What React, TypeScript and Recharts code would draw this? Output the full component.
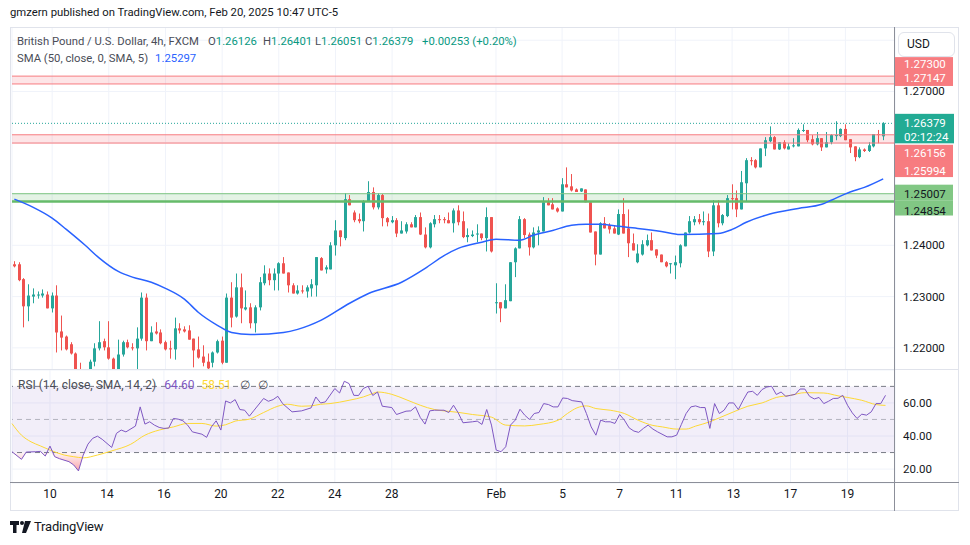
import React from "react";
import {
  ComposedChart,
  Bar,
  Line,
  Area,
  XAxis,
  YAxis,
  CartesianGrid,
  ReferenceLine,
  ReferenceArea,
} from "recharts";

const FONT = "Roboto, 'Noto Sans', sans-serif";
const TEAL = "#26A69A";
const RED = "#EF5350";
const GRID = "#F0F3FA";

// ---- 4h candles, GBP/USD (FXCM), Jan 9 – Feb 20 2025 ----
const opens = [
  1.2363, 1.2363, 1.2334, 1.2281, 1.23, 1.2302, 1.2302, 1.2304, 1.2277, 1.2302,
  1.2232, 1.2222, 1.2207, 1.2189, 1.2152, 1.2127, 1.214, 1.2173, 1.2199, 1.2213,
  1.2201, 1.2179, 1.2152, 1.2187, 1.2211, 1.2201, 1.2199, 1.2218, 1.2298, 1.2213,
  1.2232, 1.223, 1.2211, 1.2199, 1.2197, 1.2238, 1.2236, 1.2234, 1.2218, 1.2197,
  1.2183, 1.2173, 1.2171, 1.2191, 1.2214, 1.2171, 1.2298, 1.2261, 1.2318, 1.2275,
  1.2279, 1.2248, 1.2279, 1.2326, 1.2345, 1.2332, 1.2345, 1.2365, 1.2347, 1.2322,
  1.2306, 1.2312, 1.231, 1.2316, 1.2322, 1.2375, 1.2353, 1.2353, 1.24, 1.2429,
  1.2414, 1.249, 1.2464, 1.2451, 1.2447, 1.2486, 1.2504, 1.2474, 1.2498, 1.2453,
  1.2445, 1.2449, 1.2423, 1.2427, 1.2441, 1.2435, 1.2455, 1.2421, 1.2396, 1.2441,
  1.2451, 1.2451, 1.2449, 1.2443, 1.2468, 1.2447, 1.2416, 1.2418, 1.2421, 1.2423,
  1.2414, 1.2455, 1.2287, 1.2289, 1.2277, 1.2291, 1.2367, 1.2394, 1.2451, 1.2421,
  1.2396, 1.2425, 1.2427, 1.2484, 1.248, 1.2472, 1.2466, 1.2519, 1.2515, 1.2509,
  1.2505, 1.2509, 1.2484, 1.2427, 1.2382, 1.2443, 1.2439, 1.2433, 1.2421, 1.2461,
  1.2433, 1.2404, 1.2367, 1.2382, 1.24, 1.241, 1.2392, 1.2382, 1.2367, 1.2363,
  1.2361, 1.2365, 1.2398, 1.2425, 1.2445, 1.2451, 1.2445, 1.2447, 1.2388, 1.2478,
  1.2443, 1.2457, 1.2492, 1.2492, 1.247, 1.2521, 1.2566, 1.2566, 1.2552, 1.2589,
  1.2603, 1.2611, 1.2587, 1.2601, 1.2587, 1.2593, 1.2593, 1.2623, 1.2625, 1.2607,
  1.2597, 1.2609, 1.2591, 1.2601, 1.2613, 1.2613, 1.2627, 1.2607, 1.2593, 1.2572,
  1.2587, 1.2584, 1.2593, 1.2617, 1.26126,
];
const highs = [
  1.2369, 1.2367, 1.2336, 1.2324, 1.2316, 1.231, 1.2314, 1.231, 1.2308, 1.2322,
  1.2263, 1.2224, 1.2211, 1.2191, 1.2171, 1.2152, 1.2177, 1.2209, 1.2252, 1.2218,
  1.2252, 1.2181, 1.2216, 1.2214, 1.2216, 1.2209, 1.224, 1.2308, 1.2306, 1.2242,
  1.225, 1.2236, 1.2214, 1.2214, 1.2259, 1.2248, 1.2242, 1.2244, 1.2218, 1.2222,
  1.2205, 1.2189, 1.2193, 1.2216, 1.2222, 1.2306, 1.2328, 1.2345, 1.2345, 1.2312,
  1.2287, 1.2283, 1.2338, 1.2361, 1.2355, 1.2355, 1.2367, 1.2377, 1.2347, 1.2326,
  1.2322, 1.2322, 1.2322, 1.2334, 1.2377, 1.2377, 1.2361, 1.2406, 1.2449, 1.2429,
  1.2502, 1.2498, 1.2468, 1.2462, 1.2488, 1.2525, 1.2513, 1.2502, 1.25, 1.2455,
  1.2457, 1.2453, 1.2447, 1.2445, 1.2445, 1.2459, 1.2464, 1.2435, 1.2445, 1.2459,
  1.2459, 1.2455, 1.2464, 1.2472, 1.2478, 1.2466, 1.2433, 1.2429, 1.2441, 1.2423,
  1.2474, 1.2455, 1.2326, 1.2289, 1.2324, 1.2367, 1.2396, 1.2457, 1.2453, 1.2425,
  1.2435, 1.2437, 1.2494, 1.2492, 1.2492, 1.2474, 1.2531, 1.2552, 1.2539, 1.2511,
  1.2511, 1.2509, 1.2484, 1.2427, 1.2445, 1.2455, 1.2443, 1.2439, 1.247, 1.2492,
  1.247, 1.2423, 1.2402, 1.241, 1.2421, 1.2425, 1.2392, 1.2382, 1.2369, 1.2365,
  1.238, 1.2402, 1.2425, 1.2457, 1.2457, 1.2461, 1.2466, 1.2462, 1.2488, 1.2488,
  1.2461, 1.2498, 1.2519, 1.2507, 1.2545, 1.257, 1.2572, 1.2568, 1.2589, 1.2611,
  1.2632, 1.2613, 1.2601, 1.2605, 1.2599, 1.2609, 1.2628, 1.2636, 1.2625, 1.2615,
  1.2621, 1.2609, 1.2621, 1.2617, 1.2642, 1.2628, 1.2636, 1.2607, 1.2593, 1.2591,
  1.2589, 1.2601, 1.2617, 1.2625, 1.26401,
];
const lows = [
  1.2357, 1.233, 1.224, 1.2252, 1.2287, 1.2296, 1.2298, 1.2277, 1.2269, 1.2191,
  1.2195, 1.2195, 1.2187, 1.214, 1.2117, 1.2101, 1.2129, 1.2164, 1.2195, 1.2195,
  1.2177, 1.214, 1.2144, 1.2183, 1.2199, 1.2195, 1.2152, 1.2214, 1.2195, 1.2213,
  1.2226, 1.2207, 1.2195, 1.2179, 1.2177, 1.2228, 1.223, 1.2216, 1.2162, 1.2179,
  1.2164, 1.2146, 1.2162, 1.2189, 1.2168, 1.2171, 1.224, 1.2259, 1.2248, 1.2273,
  1.2238, 1.223, 1.2273, 1.2322, 1.2322, 1.2312, 1.2312, 1.2345, 1.2308, 1.2306,
  1.2304, 1.2306, 1.2298, 1.23, 1.23, 1.2351, 1.2345, 1.2353, 1.238, 1.2398,
  1.241, 1.2478, 1.2445, 1.2443, 1.2427, 1.2486, 1.247, 1.247, 1.2437, 1.2437,
  1.2443, 1.2416, 1.2423, 1.2423, 1.2435, 1.2435, 1.242, 1.2394, 1.2394, 1.2435,
  1.2443, 1.2443, 1.2443, 1.2425, 1.2439, 1.2414, 1.2406, 1.2416, 1.2406, 1.241,
  1.2388, 1.2386, 1.2267, 1.225, 1.2277, 1.2291, 1.2338, 1.2394, 1.2414, 1.238,
  1.2394, 1.24, 1.2427, 1.2478, 1.247, 1.2464, 1.2466, 1.2513, 1.2505, 1.2504,
  1.2504, 1.2484, 1.2425, 1.2361, 1.2382, 1.2433, 1.2423, 1.2423, 1.242, 1.2423,
  1.2377, 1.239, 1.2365, 1.238, 1.2398, 1.239, 1.2375, 1.2367, 1.2357, 1.2345,
  1.2334, 1.2357, 1.2398, 1.2423, 1.2439, 1.2441, 1.2439, 1.2377, 1.2379, 1.2435,
  1.2439, 1.2455, 1.247, 1.2455, 1.247, 1.2486, 1.2556, 1.255, 1.2552, 1.2574,
  1.2601, 1.2587, 1.2586, 1.2587, 1.2587, 1.2591, 1.2593, 1.2621, 1.2601, 1.2595,
  1.2595, 1.2584, 1.2591, 1.2597, 1.2605, 1.2611, 1.2605, 1.258, 1.2564, 1.257,
  1.2582, 1.2582, 1.2591, 1.2599, 1.26051,
];
const closes = [
  1.2359, 1.2332, 1.2281, 1.2302, 1.2304, 1.2304, 1.2306, 1.2277, 1.2302, 1.223,
  1.222, 1.2197, 1.2189, 1.2152, 1.2127, 1.214, 1.2173, 1.2199, 1.2211, 1.2201,
  1.2179, 1.2152, 1.2187, 1.2211, 1.2201, 1.2199, 1.2218, 1.2298, 1.2213, 1.223,
  1.2228, 1.2209, 1.2197, 1.2197, 1.2238, 1.2234, 1.2232, 1.2216, 1.2195, 1.2181,
  1.2171, 1.216, 1.2191, 1.2213, 1.2171, 1.2298, 1.2259, 1.2318, 1.2277, 1.2279,
  1.2248, 1.2279, 1.2328, 1.2345, 1.2332, 1.2345, 1.2365, 1.2345, 1.2322, 1.2306,
  1.2312, 1.231, 1.2318, 1.2324, 1.2377, 1.2351, 1.2357, 1.24, 1.2429, 1.2416,
  1.249, 1.2478, 1.2449, 1.2447, 1.2486, 1.2504, 1.2474, 1.2498, 1.2453, 1.2445,
  1.2449, 1.2423, 1.2429, 1.2441, 1.2435, 1.2455, 1.2421, 1.2396, 1.2443, 1.2451,
  1.2449, 1.2449, 1.2443, 1.2468, 1.2445, 1.2416, 1.242, 1.2421, 1.2423, 1.2414,
  1.2455, 1.2388, 1.2289, 1.2277, 1.2293, 1.2367, 1.2394, 1.2451, 1.242, 1.2396,
  1.2425, 1.2429, 1.2484, 1.2478, 1.247, 1.2466, 1.2519, 1.2513, 1.2507, 1.2504,
  1.2511, 1.2484, 1.2425, 1.2382, 1.2443, 1.2433, 1.2431, 1.2423, 1.2461, 1.2423,
  1.2404, 1.239, 1.2384, 1.2402, 1.241, 1.239, 1.238, 1.2367, 1.2359, 1.2365,
  1.2367, 1.24, 1.2425, 1.2447, 1.2451, 1.2445, 1.2447, 1.2388, 1.2478, 1.2443,
  1.2459, 1.2492, 1.249, 1.247, 1.2523, 1.2566, 1.2564, 1.2552, 1.2589, 1.2605,
  1.2611, 1.2587, 1.2601, 1.2589, 1.2593, 1.2595, 1.2625, 1.2625, 1.2605, 1.2597,
  1.2609, 1.2591, 1.2601, 1.2615, 1.2615, 1.2627, 1.2605, 1.2591, 1.2572, 1.2587,
  1.2584, 1.2595, 1.2617, 1.2615, 1.26379,
];

// SMA(50) read at candle numbers (1-based)
const smaPoints: [number, number][] = [
  [1, 1.249], [5, 1.2474], [9, 1.2453], [12, 1.2431], [16, 1.24], [19, 1.2375],
  [23, 1.2349], [26, 1.2338], [30, 1.2328], [33, 1.2316], [37, 1.2295], [40, 1.2269],
  [44, 1.2244], [47, 1.223], [51, 1.2226], [58, 1.223], [61, 1.2236], [66, 1.2254],
  [72, 1.2287], [76, 1.2306], [83, 1.2328], [88, 1.2355], [92, 1.238], [95, 1.2394],
  [100, 1.2406], [103, 1.2412], [108, 1.241], [111, 1.242], [115, 1.2429], [119, 1.2439],
  [122, 1.2441], [125, 1.2441], [129, 1.2437], [133, 1.2433], [138, 1.2427], [142, 1.2421],
  [150, 1.2423], [153, 1.2431], [156, 1.2445], [161, 1.2461], [167, 1.2472], [172, 1.248],
  [174, 1.2488], [178, 1.2504], [181, 1.2513], [185, 1.25297],
];

// RSI(14) read at candle numbers
const rsiPoints: [number, number][] = [
  [1, 30.5], [3, 25.9], [4, 30.3], [6, 30.5], [7, 30.7], [8, 27.9], [9, 33.9], [10, 27.5],
  [11, 26.3], [13, 24.5], [14, 22.5], [15, 18.9], [16, 28.5], [17, 35.1], [18, 38.6],
  [19, 39.9], [20, 38.0], [22, 33.1], [23, 41.6], [24, 43.6], [25, 42.5], [27, 46.0],
  [28, 57.6], [29, 47.2], [30, 48.6], [31, 46.6], [32, 45.2], [33, 44.6], [34, 44.8],
  [35, 50.6], [36, 50.2], [37, 49.2], [38, 46.6], [39, 42.5], [41, 41.1], [42, 39.2],
  [43, 45.5], [44, 49.2], [45, 43.6], [46, 61.2], [47, 60.0], [48, 62.0], [49, 56.0],
  [50, 55.6], [51, 52.0], [52, 55.6], [54, 62.7], [55, 61.0], [56, 62.0], [57, 64.0],
  [58, 59.6], [60, 54.6], [62, 55.2], [64, 57.0], [65, 63.6], [66, 60.0], [67, 60.6],
  [69, 68.7], [70, 66.0], [71, 73.1], [72, 71.7], [73, 64.6], [74, 64.5], [75, 68.7],
  [76, 70.1], [77, 64.5], [78, 66.6], [79, 58.0], [81, 57.2], [82, 53.0], [84, 55.0],
  [85, 55.2], [86, 57.6], [87, 51.2], [88, 47.2], [89, 55.2], [90, 55.6], [92, 55.6],
  [93, 54.2], [94, 58.6], [95, 54.0], [96, 48.0], [98, 48.6], [99, 49.0], [100, 47.0],
  [101, 56.0], [102, 46.6], [103, 31.5], [104, 30.5], [105, 33.5], [106, 46.6], [107, 49.6],
  [108, 56.2], [109, 52.6], [110, 50.0], [111, 53.6], [112, 54.2], [113, 59.6], [114, 59.0],
  [115, 57.6], [116, 57.6], [117, 63.0], [118, 62.7], [119, 61.4], [121, 60.6], [122, 53.6],
  [123, 45.5], [124, 40.5], [125, 49.6], [126, 48.6], [127, 48.6], [128, 47.6], [129, 53.0],
  [130, 49.6], [131, 44.9], [132, 43.0], [133, 42.2], [134, 44.6], [135, 46.6], [136, 44.2],
  [137, 42.5], [139, 39.5], [140, 39.5], [141, 40.5], [142, 47.0], [143, 53.6], [144, 57.6],
  [145, 58.2], [146, 57.2], [147, 57.2], [148, 44.6], [149, 59.6], [150, 53.6], [151, 55.6],
  [152, 60.0], [153, 60.0], [154, 56.0], [155, 61.6], [156, 66.6], [157, 67.0], [158, 64.6],
  [159, 68.1], [160, 69.6], [161, 70.1], [162, 65.1], [163, 66.6], [164, 64.0], [165, 64.6],
  [166, 65.2], [167, 68.4], [168, 68.4], [169, 64.0], [170, 62.4], [171, 63.3], [172, 59.6],
  [173, 61.0], [174, 62.7], [175, 62.8], [176, 64.6], [177, 58.6], [178, 54.0], [179, 50.6],
  [180, 53.2], [181, 52.6], [182, 54.6], [183, 59.6], [184, 59.6], [185, 64.6],
];

// RSI-based SMA(14)
const rsiSmaPoints: [number, number][] = [
  [1, 47.5], [3, 40.5], [5, 36.5], [7, 34], [9, 31.5], [12, 28.5], [14, 27.5], [16, 26.8],
  [19, 28.5], [22, 31], [26, 35], [29, 40.5], [32, 43.6], [35, 45.5], [38, 47.6], [41, 47.6],
  [44, 46], [46, 46.8], [48, 49], [51, 50.2], [54, 54.2], [57, 58], [59, 59.2], [62, 58],
  [64, 58.2], [66, 59.2], [68, 59.6], [72, 61.6], [75, 63.6], [77, 65.7], [78, 66.6], [81, 65.2],
  [84, 62], [87, 58.6], [90, 56], [92, 55.2], [95, 54.3], [98, 53], [102, 51.4], [105, 46.6],
  [109, 46.1], [112, 47], [116, 49.5], [118, 53.6], [120, 57], [122, 58.2], [124, 56.6],
  [127, 55.6], [130, 53.6], [133, 49.4], [136, 46.4], [138, 45.5], [141, 44.2], [143, 44.2],
  [145, 46], [148, 48.6], [150, 51], [153, 54.6], [156, 58], [159, 60], [162, 63.3], [165, 64.6],
  [168, 66.2], [172, 66], [175, 64.3], [177, 63.3], [180, 61.6], [183, 59], [185, 58.51],
];

// time axis
const tickIdx = [8, 20, 32, 44, 56, 68, 80, 102, 116, 128, 140, 152, 164, 176];
const tickText = ["10", "14", "16", "20", "22", "24", "28", "Feb", "5", "7", "11", "13", "17", "19"];

const priceTicks = [1.22, 1.23, 1.24, 1.25, 1.26, 1.27, 1.28];
const hiddenPriceTicks = [1.25, 1.26, 1.28];
const rsiTicks = [20, 40, 60];

const SLOTS = 187;

const rows: any[] = Array.from({ length: SLOTS }, (_, j) => {
  const has = j < opens.length;
  return {
    idx: j,
    o: has ? opens[j] : null,
    h: has ? highs[j] : null,
    l: has ? lows[j] : null,
    c: has ? closes[j] : null,
    range: has ? [lows[j], highs[j]] : null,
    sma: null,
    rsi: null,
    rsiSma: null,
    os: null,
  };
});
smaPoints.forEach(([i, v]) => (rows[i - 1].sma = v));
rsiPoints.forEach(([i, v]) => {
  rows[i - 1].rsi = v;
  rows[i - 1].os = [Math.min(v, 30), 30];
});
rsiSmaPoints.forEach(([i, v]) => (rows[i - 1].rsiSma = v));

function Candle(props: any) {
  const { x, y, width, height, payload } = props;
  if (!payload || payload.o == null || height == null || isNaN(height)) return <g />;
  const { o, h, l, c } = payload;
  const top = Math.min(y, y + height);
  const span = Math.abs(height);
  const k = h - l > 0 ? span / (h - l) : 0;
  const yO = top + (h - o) * k;
  const yC = top + (h - c) * k;
  const col = c >= o ? TEAL : RED;
  const cx = Math.round(x + width / 2 - 0.5);
  const bTop = Math.min(yO, yC);
  const bH = Math.max(1, Math.abs(yO - yC));
  return (
    <g>
      <rect x={cx} y={top} width={1} height={Math.max(1, span)} fill={col} />
      <rect x={cx - 1} y={bTop} width={3} height={bH} fill={col} />
    </g>
  );
}

function PriceTick(props: any) {
  const { x, y, payload } = props;
  if (hiddenPriceTicks.includes(payload.value)) return <g />;
  return (
    <text x={x + 8} y={y} dy={4} fontSize={11.5} fill="#131722" fontFamily={FONT}>
      {Number(payload.value).toFixed(5)}
    </text>
  );
}

function RsiTick(props: any) {
  const { x, y, payload } = props;
  return (
    <text x={x + 8} y={y} dy={4} fontSize={11.5} fill="#131722" fontFamily={FONT}>
      {Number(payload.value).toFixed(2)}
    </text>
  );
}

function TimeTick(props: any) {
  const { x, y, payload } = props;
  const k = tickIdx.indexOf(payload.value);
  return (
    <text x={x} y={y} dy={15} textAnchor="middle" fontSize={12} fill="#131722" fontFamily={FONT}>
      {k >= 0 ? tickText[k] : ""}
    </text>
  );
}

function boxLabel(fill: string, textColor: string, r0: number, r1: number, lines: [string, number][], w = 58) {
  return (p: any) => {
    const vb = p.viewBox || {};
    const x0 = vb.x + vb.width;
    const ly = vb.y;
    return (
      <g>
        <rect x={x0} y={ly + r0} width={w} height={r1 - r0} fill={fill} />
        {lines.map(([t, dy], k) => (
          <text key={k} x={x0 + 9} y={ly + dy} dy={4} fontSize={11.5} fill={textColor} fontFamily={FONT}>
            {t}
          </text>
        ))}
      </g>
    );
  };
}

const BOX_RED = "#F77C80";
const BOX_TEAL = "#22AB94";
const BOX_GREEN = "#81C784";

export default function App() {
  const abs = (s: any) => ({ position: "absolute" as const, ...s });
  const LG = 11.3;
  return (
    <div style={abs({ left: 0, top: 0, width: 970, height: 545, background: "#ffffff", fontFamily: FONT, overflow: "hidden" })}>
      <div style={abs({ left: 10, top: 6, fontSize: LG, color: "#131722", whiteSpace: "nowrap" })}>
        gmzern published on TradingView.com, Feb 20, 2025 10:47 UTC-5
      </div>

      {/* price pane */}
      <div style={abs({ left: 0, top: 27 })}>
        <ComposedChart width={959} height={343} data={rows} margin={{ top: 0, right: 0, bottom: 0, left: 12 }} barCategoryGap="0%">
          <XAxis dataKey="idx" type="category" hide ticks={tickIdx} interval={0} />
          <YAxis
            orientation="right"
            width={64}
            domain={[1.21568, 1.28258]}
            allowDataOverflow
            ticks={priceTicks}
            interval={0}
            tick={<PriceTick />}
            tickLine={false}
            axisLine={false}
            tickSize={0}
            tickMargin={0}
          />
          <CartesianGrid stroke={GRID} vertical horizontal />
          <ReferenceArea y1={1.27147} y2={1.273} fill="#F23645" fillOpacity={0.13} stroke="none" />
          <ReferenceArea y1={1.25994} y2={1.26156} fill="#F23645" fillOpacity={0.13} stroke="none" />
          <ReferenceArea y1={1.24854} y2={1.25007} fill="#4CAF50" fillOpacity={0.15} stroke="none" />
          <ReferenceLine y={1.273} stroke={BOX_RED} strokeWidth={1} label={boxLabel(BOX_RED, "#ffffff", -19, -6, [["1.27300", -12]])} />
          <ReferenceLine y={1.27147} stroke={BOX_RED} strokeWidth={1} label={boxLabel(BOX_RED, "#ffffff", -14, 2, [["1.27147", -6]])} />
          <ReferenceLine y={1.25994} stroke={BOX_RED} strokeWidth={1} label={boxLabel(BOX_RED, "#ffffff", 2, 34, [["1.25994", 28]])} />
          <ReferenceLine y={1.26156} stroke={BOX_RED} strokeWidth={1} label={boxLabel(BOX_RED, "#ffffff", 10, 26, [["1.26156", 18]])} />
          <ReferenceLine y={1.25007} stroke={BOX_GREEN} strokeWidth={1} label={boxLabel(BOX_GREEN, "#131722", -9, 7, [["1.25007", 0]])} />
          <ReferenceLine y={1.24854} stroke="#66BB6A" strokeWidth={2.5} label={boxLabel(BOX_GREEN, "#131722", -1, 14, [["1.24854", 9.5]])} />
          <ReferenceLine
            y={1.26379}
            stroke={TEAL}
            strokeDasharray="1 2"
            label={boxLabel(BOX_TEAL, "#ffffff", -9.5, 20, [["1.26379", 0], ["02:12:24", 14]], 59)}
          />
          <Bar dataKey="range" shape={<Candle />} isAnimationActive={false} />
          <Line dataKey="sma" type="monotone" stroke="#2962FF" strokeWidth={1.5} dot={false} connectNulls isAnimationActive={false} />
        </ComposedChart>
      </div>

      {/* RSI pane */}
      <div style={abs({ left: 0, top: 370 })}>
        <ComposedChart width={959} height={140} data={rows} margin={{ top: 0, right: 0, bottom: 0, left: 12 }}>
          <defs>
            <linearGradient id="osFill" x1="0" y1="0" x2="0" y2="1">
              <stop offset="0%" stopColor="#F23645" stopOpacity={0.05} />
              <stop offset="100%" stopColor="#F23645" stopOpacity={0.45} />
            </linearGradient>
          </defs>
          <XAxis
            dataKey="idx"
            type="category"
            ticks={tickIdx}
            interval={0}
            height={27}
            tick={<TimeTick />}
            tickLine={false}
            axisLine={false}
            tickSize={0}
            tickMargin={0}
          />
          <YAxis
            orientation="right"
            width={64}
            domain={[11.6, 79.9]}
            allowDataOverflow
            ticks={rsiTicks}
            interval={0}
            tick={<RsiTick />}
            tickLine={false}
            axisLine={false}
            tickSize={0}
            tickMargin={0}
          />
          <ReferenceArea y1={30} y2={70} fill="#7E57C2" fillOpacity={0.1} stroke="none" />
          <CartesianGrid stroke={GRID} vertical horizontal />
          <ReferenceLine y={70} stroke="#787B86" strokeDasharray="5 4" />
          <ReferenceLine y={50} stroke="#787B86" strokeOpacity={0.5} strokeDasharray="5 4" />
          <ReferenceLine y={30} stroke="#787B86" strokeDasharray="5 4" />
          <Area dataKey="os" type="linear" stroke="none" fill="url(#osFill)" fillOpacity={1} connectNulls isAnimationActive={false} />
          <Line dataKey="rsiSma" type="monotone" stroke="#FDD835" strokeWidth={1} dot={false} connectNulls isAnimationActive={false} />
          <Line dataKey="rsi" type="linear" stroke="#7E57C2" strokeWidth={1} dot={false} connectNulls isAnimationActive={false} />
        </ComposedChart>
      </div>

      {/* frame lines */}
      <div style={abs({ left: 10, top: 27, width: 949, height: 484, border: "1px solid #E0E3EB", boxSizing: "border-box", pointerEvents: "none" })} />
      <div style={abs({ left: 10, top: 369, width: 949, height: 1, background: "#E0E3EB" })} />
      <div style={abs({ left: 894, top: 27, width: 1, height: 484, background: "#8C8F99" })} />
      <div style={abs({ left: 10, top: 482, width: 949, height: 1, background: "#8C8F99" })} />

      {/* USD button */}
      <div
        style={abs({
          left: 898,
          top: 32,
          width: 57,
          height: 25,
          border: "1px solid #E0E3EB",
          borderRadius: 6,
          boxSizing: "border-box",
          background: "#fff",
          fontSize: 12,
          color: "#131722",
          lineHeight: "23px",
          paddingLeft: 8,
        })}
      >
        USD
      </div>

      {/* legend */}
      <div style={abs({ left: 17, top: 34, fontSize: LG, color: "#4A4D57", whiteSpace: "nowrap", lineHeight: "16px" })}>
        British Pound / U.S. Dollar, 4h, FXCM
      </div>
      {[
        ["O", "1.26126", 208],
        ["H", "1.26401", 263],
        ["L", "1.26051", 315],
        ["C", "1.26379", 365],
      ].map(([k, v, x]: any) => (
        <div key={k} style={abs({ left: x, top: 34, fontSize: LG, whiteSpace: "nowrap", lineHeight: "16px" })}>
          <span style={{ color: "#4A4D57" }}>{k}</span>
          <span style={{ color: "#089981" }}>{v}</span>
        </div>
      ))}
      <div style={abs({ left: 422, top: 34, fontSize: LG, color: "#089981", whiteSpace: "nowrap", lineHeight: "16px" })}>
        +0.00253 (+0.20%)
      </div>
      <div style={abs({ left: 17, top: 51, fontSize: LG, color: "#4A4D57", whiteSpace: "nowrap", lineHeight: "16px" })}>
        SMA (50, close, 0, SMA, 5)
        <span style={{ color: "#2962FF", marginLeft: 7 }}>1.25297</span>
      </div>

      <div style={abs({ left: 18, top: 377, fontSize: 12, color: "#4A4D57", whiteSpace: "nowrap", lineHeight: "16px" })}>
        RSI (14, close, SMA, 14, 2)
        <span style={{ color: "#7E57C2", marginLeft: 8 }}>64.60</span>
        <span style={{ color: "#FDD835", marginLeft: 7 }}>58.51</span>
        <span style={{ color: "#4A4D57", marginLeft: 8 }}>∅</span>
        <span style={{ color: "#4A4D57", marginLeft: 8 }}>∅</span>
      </div>

      {/* TradingView footer */}
      <div style={abs({ left: 10, top: 519, display: "flex", alignItems: "center", whiteSpace: "nowrap" })}>
        <svg width={22} height={14} viewBox="0 0 22 14">
          <path d="M0 1h9v4H6.5v8h-3.5V5H0z" fill="#131722" />
          <circle cx={12} cy={3} r={2} fill="#131722" />
          <path d="M15 1h6l-5 12h-4z" fill="#131722" />
        </svg>
        <span style={{ fontSize: 13, color: "#131722", marginLeft: 2, letterSpacing: -0.2 }}>TradingView</span>
      </div>
    </div>
  );
}
